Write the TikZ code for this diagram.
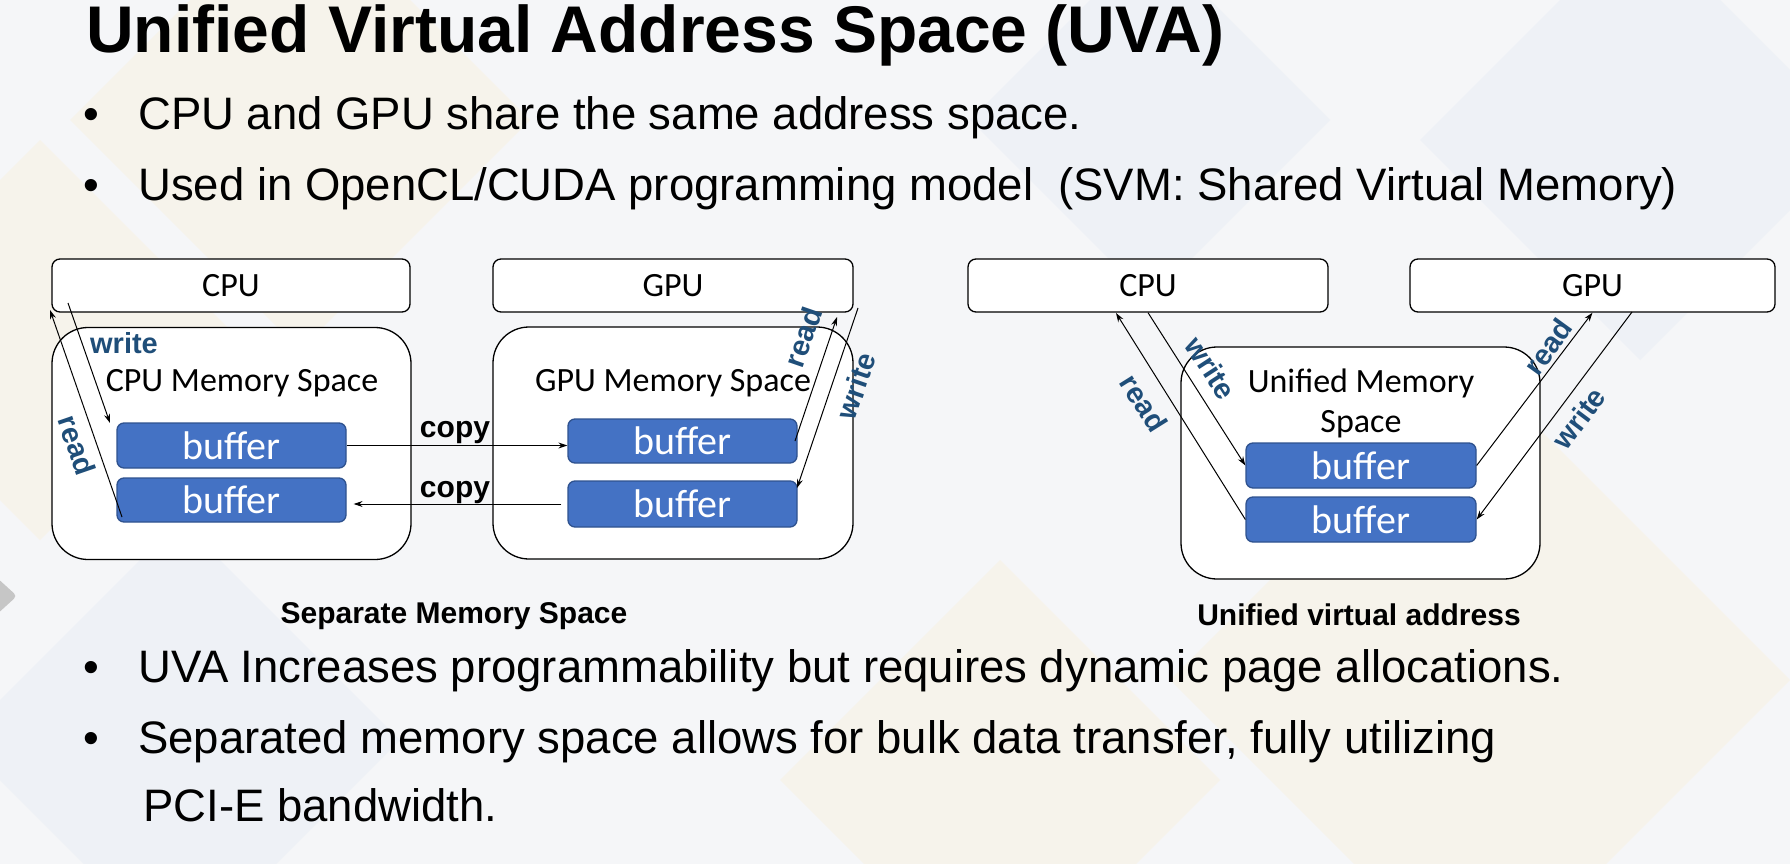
\documentclass[tikz,border=0pt]{standalone}
\usepackage{fontspec}
\setmainfont{Liberation Sans}
\newfontfamily\carlito{Carlito}
\usetikzlibrary{arrows.meta,calc}
\definecolor{bgc}{RGB}{245,246,248}
\definecolor{bufc}{RGB}{68,114,196}
\definecolor{bufd}{RGB}{47,82,143}
\definecolor{lblc}{RGB}{31,78,121}
\definecolor{paley}{RGB}{250,238,205}
\definecolor{paleb}{RGB}{222,231,243}
\tikzset{
  unitbox/.style={draw=black, line width=1.3pt, fill=white, rounded corners=8pt,
    font=\carlito\fontsize{34}{34}\selectfont, inner sep=0pt, minimum height=53pt},
  memspace/.style={draw=black, line width=1.3pt, fill=white, rounded corners=36pt,
    inner sep=0pt, minimum height=232pt},
  bufbox/.style={draw=bufd, line width=1.3pt, fill=bufc, rounded corners=7pt, text=white,
    font=\carlito\fontsize{40}{40}\selectfont, inner sep=0pt, minimum width=229pt, minimum height=45pt},
  memtext/.style={font=\carlito\fontsize{34}{40}\selectfont, align=center, inner sep=0pt},
  arr/.style={-{Stealth[length=9pt,width=6pt]}, line width=1pt},
  rwlabel/.style={text=lblc, font=\bfseries\fontsize{29}{29}\selectfont, inner sep=0pt},
  copylabel/.style={font=\bfseries\fontsize{30}{30}\selectfont, inner sep=0pt, anchor=base},
  caption/.style={font=\bfseries\fontsize{30}{30}\selectfont, inner sep=0pt, anchor=base},
  bullettext/.style={font=\fontsize{45.5}{45.5}\selectfont, inner sep=0pt, anchor=base west},
  bulletdot/.style={font=\fontsize{45}{45}\selectfont, inner sep=0pt, anchor=base},
  bgdiamond/.style={opacity=0.3},
}
\begin{document}
\begin{tikzpicture}[x=1pt,y=-1pt]
% background
\fill[bgc] (0,0) rectangle (1790,864);
\useasboundingbox (0,0) rectangle (1790,864);
\fill[paley, bgdiamond] (300,-110) -- (530,120) -- (300,350) -- (70,120) -- cycle;
\fill[paley, bgdiamond] (40,140) -- (240,340) -- (40,540) -- (-160,340) -- cycle;
\fill[paleb, bgdiamond] (1640,-80) -- (1860,140) -- (1640,360) -- (1420,140) -- cycle;
\fill[paleb, bgdiamond] (1150,-60) -- (1330,120) -- (1150,300) -- (970,120) -- cycle;
\fill[paley, bgdiamond] (1480,370) -- (1790,680) -- (1480,990) -- (1170,680) -- cycle;
\fill[paley, bgdiamond] (1000,560) -- (1220,780) -- (1000,1000) -- (780,780) -- cycle;
\fill[paleb, bgdiamond] (180,520) -- (400,740) -- (180,960) -- (-40,740) -- cycle;
\fill[gray!45, rounded corners=4pt] (-5,576) -- (17,596) -- (-5,616) -- cycle;

% title and bullets
\node[font=\bfseries\fontsize{66}{66}\selectfont, inner sep=0pt, anchor=base west] (title) at (86,53) {Unified Virtual Address Space (UVA)};
\node[bulletdot] (d1) at (91,130) {•};
\node[bullettext] (b1) at (138,130) {CPU and GPU share the same address space.};
\node[bulletdot] (d2) at (91,200) {•};
\node[bullettext] (b2) at (138,200) {Used in OpenCL/CUDA programming model\ \ (SVM: Shared Virtual Memory)};
\node[bulletdot] (d3) at (91,682) {•};
\node[bullettext] (b3) at (138,682) {UVA Increases programmability but requires dynamic page allocations.};
\node[bulletdot] (d4) at (91,753) {•};
\node[bullettext] (b4) at (138,753) {Separated memory space allows for bulk data transfer, fully utilizing};
\node[bullettext] (b5) at (143,821) {PCI-E bandwidth.};

% ---------- separate memory space ----------
\node[unitbox, minimum width=358pt] (cpu1) at (231,285.5) {CPU};
\node[memspace, minimum width=359pt] (cmem) at (231.5,443.5) {};
\node[memtext] (cmemt) at (242,383) {CPU Memory Space};
\node[bufbox] (cb1) at (231.5,445.5) {buffer};
\node[bufbox, minimum height=44pt] (cb2) at (231.5,500) {buffer};

\node[unitbox, minimum width=360pt] (gpu1) at (673,285.5) {GPU};
\node[memspace, minimum width=360pt] (gmem) at (673,443) {};
\node[memtext] (gmemt) at (673,383) {GPU Memory Space};
\node[bufbox, minimum height=44pt] (gb1) at (682.5,441) {buffer};
\node[bufbox, minimum height=46pt] (gb2) at (682.5,504) {buffer};

% copy arrows
\draw[arr] (cb1.east) -- (cb1.east -| gb1.west);
\draw[arr, shorten <=6pt, shorten >=7pt] (gb2.west) -- (gb2.west -| cb2.east);
\node[copylabel] (copy1) at (455,437) {copy};
\node[copylabel] (copy2) at (455,497) {copy};

% CPU read/write
\coordinate (cws) at (68,303);
\coordinate (cwe) at (110,423);
\coordinate (crs) at (122,517);
\coordinate (cre) at (50,310);
\draw[arr] (cws) -- (cwe);
\draw[arr] (crs) -- (cre);
\node[rwlabel] (cwl) at (124,343) {write};
\node[rwlabel, rotate=-71] (crl) at (77,445) {read};

% GPU read/write
\coordinate (grs) at (795,441);
\coordinate (gre) at (837,317);
\coordinate (gws) at (858,308);
\coordinate (gwe) at (797,488);
\draw[arr] (grs) -- (gre);
\draw[arr] (gws) -- (gwe);
\node[rwlabel, rotate=71] (grl) at (803,337) {read};
\node[rwlabel, rotate=71] (gwl) at (856,386) {write};

\node[caption] (cap1) at (454,623) {Separate Memory Space};

% ---------- unified ----------
\node[unitbox, minimum width=360pt] (cpu2) at (1148,285.5) {CPU};
\node[unitbox, minimum width=365pt] (gpu2) at (1592.5,285.5) {GPU};
\node[memspace, minimum width=359pt] (umem) at (1360.5,463) {};
\node[memtext] (umemt) at (1361,403) {Unified Memory\\Space};
\node[bufbox, minimum width=230pt] (ub1) at (1361,465.5) {buffer};
\node[bufbox, minimum width=230pt] (ub2) at (1361,519.5) {buffer};

\coordinate (ucre) at (1116,313);
\coordinate (ugws) at (1632,312);
\draw[arr] (cpu2.south) -- (ub1.west);
\draw[arr] (ub2.west) -- (ucre);
\draw[arr] (ub1.east) -- (gpu2.south);
\draw[arr] (ugws) -- (ub2.east);
\node[rwlabel, rotate=-57] (uwl1) at (1211,368) {write};
\node[rwlabel, rotate=-58] (url1) at (1144,403) {read};
\node[rwlabel, rotate=54] (url2) at (1548,347) {read};
\node[rwlabel, rotate=53] (uwl2) at (1579,418) {write};

\node[caption] (cap2) at (1359,625) {Unified virtual address};
\end{tikzpicture}
\end{document}
